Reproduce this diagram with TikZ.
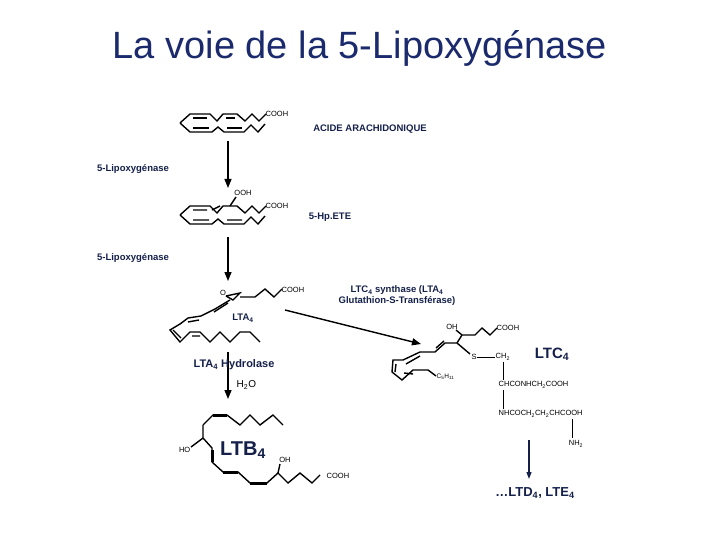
\documentclass[tikz,border=0pt]{standalone}
\usepackage{fontspec}
\setmainfont{Liberation Sans}
\usetikzlibrary{arrows.meta}
\definecolor{lxnavy}{HTML}{14204A}
\definecolor{lxtitle}{HTML}{1A2A6C}
\newcommand{\lxsub}[1]{\textsubscript{#1}}
\begin{document}
\begin{tikzpicture}[x=1pt, y=-1pt,
    bond/.style={line width=1.4pt, line join=miter},
    atom/.style={inner sep=0.5pt, font=\fontsize{7.5}{8}\selectfont},
    enz/.style={font=\fontsize{9.5}{11}\selectfont\bfseries, text=lxnavy, align=center},
    big/.style={font=\fontsize{15}{17}\selectfont\bfseries, text=lxnavy},
    react/.style={-{Triangle[length=9pt, width=7pt]}, line width=1.4pt},
]
\useasboundingbox (0,0) rectangle (720,540);

% Title
\node[font=\fontsize{38}{40}\selectfont, text=lxtitle] (title) at (360,48) {La voie de la 5-Lipoxygénase};

% Acide arachidonique
\draw[bond] (180,123) -- (190,114) -- (210,114) -- (217,121) -- (223,114) -- (237,114) -- (245,121) -- (252,114) -- (259,121) -- (266,114);
\draw[bond] (180,123) -- (190,132) -- (212,132) -- (218,127) -- (224,132) -- (244,132) -- (251,125) -- (258,132) -- (265,124);
\draw[bond] (193,118) -- (207,118) (226,118) -- (235,118) (193,128) -- (209,128) (227,128) -- (242,128);
\node[atom, anchor=west] (cooh1) at (265,114) {COOH};
\node[enz] (aa) at (370,129) {ACIDE ARACHIDONIQUE};
\node[enz] (lox1) at (133,169) {5-Lipoxygénase};
\coordinate (s1) at (228,141);
\coordinate (e1) at (228,188);
\draw[react] (s1) -- (e1);

% 5-HpETE
\draw[bond] (180,215) -- (190,206) -- (210,206) -- (217,213) -- (223,206) -- (237,206) -- (245,213) -- (252,206) -- (259,213) -- (266,206);
\draw[bond] (180,215) -- (190,224) -- (212,224) -- (218,219) -- (224,224) -- (244,224) -- (251,217) -- (258,224) -- (265,216);
\draw[bond] (193,210) -- (207,210) (212,210) -- (220,206) (193,220) -- (209,220) (227,220) -- (242,220);
\node[atom] (ooh) at (243,193) {OOH};
\draw[bond] (230,206) -- (236,197);
\node[atom, anchor=west] (cooh2) at (265,206) {COOH};
\node[enz] (hpete) at (330,217) {5-Hp.ETE};
\node[enz] (lox2) at (133,258) {5-Lipoxygénase};
\coordinate (s2) at (228,237);
\coordinate (e2) at (228,281);
\draw[react] (s2) -- (e2);

% LTA4
\node[atom] (ox) at (223,293) {O};
\draw[bond] (226,296) -- (233,300) -- (240,293) -- (226,296);
\draw[bond] (240,297) -- (255,297) -- (265,289) -- (274,297) -- (282,289);
\node[atom, anchor=west] (cooh3) at (281,290) {COOH};
\draw[bond] (230,300) -- (215,309) -- (201,316) -- (188,318) -- (180,324) -- (170,330) -- (180,342) -- (190,332) -- (200,332) -- (210,342) -- (220,332) -- (230,342) -- (240,332) -- (250,332) -- (260,342);
\draw[bond] (228,303) -- (214,312) (199,320) -- (188,322) (173,330) -- (181,338) (192,336) -- (200,336);
\node[enz] (lta4) at (243,318) {LTA\lxsub{4}};

% LTA4 -> LTB4
\coordinate (s3) at (228,352);
\coordinate (e3) at (228,399);
\draw[react] (s3) -- (e3);
\node[enz, font=\fontsize{11}{13}\selectfont\bfseries] (hydro) at (234,365) {LTA\lxsub{4} Hydrolase};
\node[atom, font=\fontsize{10}{12}\selectfont, anchor=west] (h2o) at (236,385) {H\lxsub{2}O};

% LTB4
\draw[bond] (203,425) -- (213,415) -- (227,415) -- (240,425) -- (250,415) -- (260,425) -- (273,415) -- (283,425);
\draw[bond] (203,425) -- (203,438) -- (212,448) -- (212,462) -- (223,472) -- (238,472) -- (250,483) -- (267,483) -- (278,473) -- (288,483) -- (300,473) -- (312,483) -- (320,475);
\draw[line width=3pt] (213,415) -- (227,415) (212,450) -- (212,462) (223,472) -- (238,472) (250,483) -- (267,483);
\node[atom, anchor=east] (ho) at (191,450) {HO};
\draw[bond] (203,438) -- (191,447);
\node[atom] (oh1) at (285,460) {OH};
\draw[bond] (278,473) -- (280,464);
\node[atom, anchor=west] (cooh4) at (326,476) {COOH};
\node[big, font=\fontsize{20}{22}\selectfont\bfseries] (ltb4) at (243,450) {LTB\lxsub{4}};

% LTA4 -> LTC4
\node[enz] (synth) at (397,296) {LTC\lxsub{4} synthase (LTA\lxsub{4}\\Glutathion-S-Transférase)};
\coordinate (s4) at (285,310);
\coordinate (e4) at (421,344);
\draw[react] (s4) -- (e4);

% LTC4
\draw[bond] (403,360) -- (393,360) -- (392,372) -- (402,380) -- (413,370) -- (428,370) -- (436,376);
\draw[bond] (403,360) -- (420,352) -- (435,352) -- (445,343) -- (457,343) -- (462,335) -- (475,335) -- (482,328) -- (490,335) -- (497,328);
\draw[bond] (396,364) -- (395,372) (406,364) -- (420,356) (436,348) -- (444,341) (404,373) -- (413,374);
\node[atom, font=\fontsize{6.5}{7}\selectfont, anchor=west] (c5h11) at (436,377) {C\lxsub{5}H\lxsub{11}};
\node[atom] (oh2) at (452,327) {OH};
\draw[bond] (462,335) -- (456,330);
\node[atom, anchor=west] (cooh5) at (496,328) {COOH};
\node[atom] (sul) at (474,357) {S};
\draw[bond] (457,343) -- (470,354);
\node[atom, anchor=west] (ch2) at (495,357) {CH\lxsub{2}};
\draw[bond, line width=1pt] (sul) -- (ch2);
\node[atom, anchor=west] (chco) at (498,385) {CHCONHCH\lxsub{2}COOH};
\node[atom, anchor=west] (nhco) at (498,414) {NHCOCH\lxsub{2}CH\lxsub{2}CHCOOH};
\node[atom] (nh2) at (576,444) {NH\lxsub{2}};
\draw[bond, line width=1pt] (503,362) -- (503,380);
\draw[bond, line width=1pt] (503,390) -- (503,409);
\draw[bond, line width=1pt] (572,419) -- (572,438);
\node[big] (ltc4) at (552,354) {LTC\lxsub{4}};
\coordinate (s5) at (529,440);
\coordinate (e5) at (529,479);
\draw[react, draw=lxnavy, line width=1.2pt, -{Triangle[length=7pt, width=5pt]}] (s5) -- (e5);
\node[big, font=\fontsize{13}{15}\selectfont\bfseries] (ltd4) at (535,493) {\ldots LTD\lxsub{4}, LTE\lxsub{4}};
\end{tikzpicture}
\end{document}
